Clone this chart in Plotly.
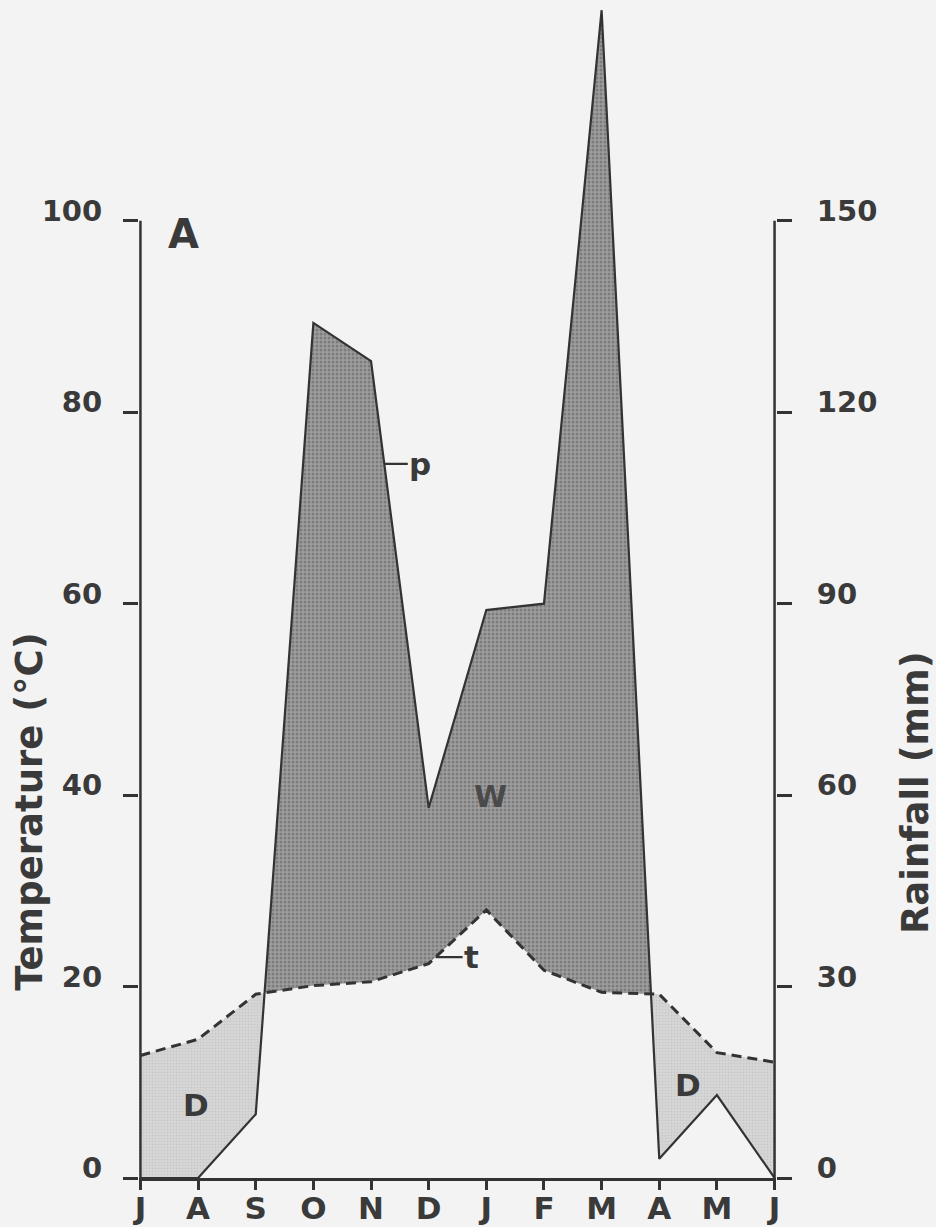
import numpy as np
import plotly.graph_objects as go

# ---------------- data ----------------
months = ['J', 'A', 'S', 'O', 'N', 'D', 'J', 'F', 'M', 'A', 'M', 'J']
temperature = [12.8, 14.5, 19.2, 20.1, 20.5, 22.4, 28.0, 21.7, 19.4, 19.2, 13.1, 12.1]   # °C (left axis)
rainfall = [0, 0, 10, 134, 128, 58, 89, 90, 183, 3, 13, 0]                             # mm (right axis)
temp_ticks = [0, 20, 40, 60, 80, 100]
rain_ticks = [0, 30, 60, 90, 120, 150]

RATIO = rain_ticks[-1] / temp_ticks[-1]        # 1.5 mm per temperature unit
INK = '#333333'
TXT = '#3a3a3a'
FONT = 'DejaVu Sans'

x = np.arange(len(months), dtype=float)
t = np.array(temperature, float)
p = np.array(rainfall, float) / RATIO

# add crossing points of the two curves so the fills switch cleanly
xs, ts, ps = [x[0]], [t[0]], [p[0]]
for i in range(len(x) - 1):
    d0, d1 = p[i] - t[i], p[i + 1] - t[i + 1]
    if d0 * d1 < 0:
        f = d0 / (d0 - d1)
        xs.append(x[i] + f)
        ts.append(t[i] + f * (t[i + 1] - t[i]))
        ps.append(p[i] + f * (p[i + 1] - p[i]))
    xs.append(x[i + 1]); ts.append(t[i + 1]); ps.append(p[i + 1])
xs, ts, ps = map(np.array, (xs, ts, ps))
upper_w = np.maximum(ps, ts)
lower_d = np.minimum(ps, ts)

fig = go.Figure()
# wet period fill (rain above temperature)
fig.add_trace(go.Scatter(x=xs, y=ts, mode='lines', line=dict(width=0), hoverinfo='skip', showlegend=False))
fig.add_trace(go.Scatter(x=xs, y=upper_w, mode='lines', line=dict(width=0), fill='tonexty',
                         fillcolor='#8e8e8e',
                         fillpattern=dict(shape='.', bgcolor='#9e9e9e', fgcolor='#5a5a5a', size=4, solidity=0.45),
                         hoverinfo='skip', showlegend=False))
# dry period fill (temperature above rain)
fig.add_trace(go.Scatter(x=xs, y=ts, mode='lines', line=dict(width=0), hoverinfo='skip', showlegend=False))
fig.add_trace(go.Scatter(x=xs, y=lower_d, mode='lines', line=dict(width=0), fill='tonexty',
                         fillcolor='#d4d4d4',
                         fillpattern=dict(shape='.', bgcolor='#d8d8d8', fgcolor='#b8b8b8', size=3, solidity=0.4),
                         hoverinfo='skip', showlegend=False))
# rainfall line (right axis)
fig.add_trace(go.Scatter(x=x, y=rainfall, yaxis='y2', mode='lines', line=dict(color=INK, width=2.2),
                         showlegend=False, name='Rainfall'))
# temperature line
fig.add_trace(go.Scatter(x=x, y=temperature, mode='lines', line=dict(color=INK, width=3, dash='10px,6px'),
                         showlegend=False, name='Temperature'))
# vertical axis lines limited to tick span
fig.add_trace(go.Scatter(x=[x[0], x[0]], y=[temp_ticks[0], temp_ticks[-1]], mode='lines',
                         line=dict(color=INK, width=2.5), hoverinfo='skip', showlegend=False))
fig.add_trace(go.Scatter(x=[x[-1], x[-1]], y=[rain_ticks[0], rain_ticks[-1]], yaxis='y2', mode='lines',
                         line=dict(color=INK, width=2.5), hoverinfo='skip', showlegend=False))

PX_PER_UNIT = 9.572
PLOT_H = 1178
ytop = PLOT_H / PX_PER_UNIT

tickfont = dict(family=FONT, size=29, color=TXT, weight='bold')
common_y = dict(showgrid=False, zeroline=False, showline=False, ticks='outside', ticklen=15,
                tickwidth=2.5, tickcolor=INK, tickfont=tickfont, ticklabelshift=-10, automargin=False)

fig.update_layout(
    width=936, height=1227,
    margin=dict(l=139, r=160, t=0, b=49, autoexpand=False),
    paper_bgcolor='#f3f3f3', plot_bgcolor='#f3f3f3',
    xaxis=dict(range=[-0.025, len(months) - 1 + 0.025], tickmode='array', tickvals=x, ticktext=months,
               showgrid=False, zeroline=False, showline=True, linecolor=INK, linewidth=2.5,
               ticks='outside', ticklen=9, tickwidth=2.5, tickcolor=INK,
               tickfont=dict(family=FONT, size=31, color=TXT, weight='bold'),
               ticklabelstandoff=-8, automargin=False),
    yaxis=dict(range=[0, ytop], tickmode='array', tickvals=temp_ticks, ticklabelstandoff=15, **common_y),
    yaxis2=dict(range=[0, ytop * RATIO], tickmode='array', tickvals=rain_ticks, overlaying='y', side='right',
                anchor='x', ticklabelstandoff=19, **common_y),
)

ann_font = dict(family=FONT, size=31, color=TXT, weight='bold')
title_font = dict(family=FONT, size=37, color=TXT, weight='bold')
# axis titles
fig.add_annotation(text='Temperature (°C)', textangle=-90, xref='paper', yref='y', x=-0.172, y=38.3,
                   xanchor='center', yanchor='middle', showarrow=False, font=title_font)
fig.add_annotation(text='Rainfall (mm)', textangle=-90, xref='paper', yref='y', x=1.218, y=40.3,
                   xanchor='center', yanchor='middle', showarrow=False, font=title_font)
# panel letter and region labels
fig.add_annotation(text='A', x=0.75, y=98.6, xref='x', yref='y', showarrow=False,
                   font=dict(family=FONT, size=40, color=TXT, weight='bold'))
fig.add_annotation(text='D', x=0.97, y=7.6, showarrow=False, font=ann_font)
fig.add_annotation(text='D', x=9.5, y=9.7, showarrow=False, font=ann_font)
fig.add_annotation(text='W', x=6.07, y=39.9, showarrow=False,
                   font=dict(family=FONT, size=30, color='#4a4a4a', weight='bold'))
# curve labels with leader lines
px_ = 4.23
fig.add_annotation(text='p', x=px_, y=float(np.interp(px_, x, p)), ax=36, ay=0, showarrow=True,
                   arrowhead=0, arrowwidth=2.2, arrowcolor=INK, font=ann_font)
tx_ = 5.12
fig.add_annotation(text='t', x=tx_, y=float(np.interp(tx_, x, t)), ax=36, ay=0, showarrow=True,
                   arrowhead=0, arrowwidth=2.2, arrowcolor=INK, font=ann_font)

fig.write_html('out.html', config={'displayModeBar': False},
               post_script="document.body.style.margin='0px';document.body.style.padding='0px';"
                           "document.body.style.overflow='hidden';")
